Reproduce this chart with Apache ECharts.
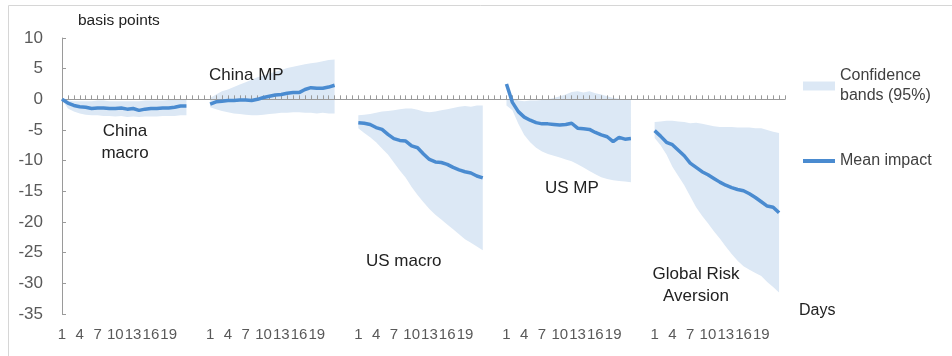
<!DOCTYPE html>
<html>
<head>
<meta charset="utf-8">
<script src="https://cdn.jsdelivr.net/npm/echarts@6/dist/echarts.min.js"></script>
<style>
html,body{margin:0;padding:0;background:#fff;}
#c{width:952px;height:356px;}
</style>
</head>
<body>
<div id="c"></div>
<script>
// ---- data ----
const panels = ['China macro', 'China MP', 'US macro', 'US MP', 'Global Risk Aversion'];
const dayTicks = ['1','','','4','','','7','','','10','','','13','','','16','','','19','','',''];
const gapAfter = [3, 3, 3, 3, 1];

const chinaMacroMean  = [0, -0.6, -1.0, -1.2, -1.3, -1.5, -1.4, -1.4, -1.5, -1.5, -1.4, -1.6, -1.5, -1.8, -1.6, -1.5, -1.5, -1.4, -1.4, -1.3, -1.1, -1.1];
const chinaMacroUpper = [0, -0.2, -0.3, -0.3, -0.3, -0.3, -0.2, -0.2, -0.3, -0.3, -0.3, -0.3, -0.3, -0.3, -0.2, -0.2, -0.2, -0.2, -0.1, -0.1, -0.1, -0.1];
const chinaMacroLower = [0, -1.5, -2.0, -2.3, -2.5, -2.6, -2.6, -2.7, -2.7, -2.8, -2.7, -2.9, -2.8, -2.9, -2.8, -2.8, -2.8, -2.7, -2.7, -2.7, -2.6, -2.6];

const chinaMpMean  = [-0.8, -0.4, -0.3, -0.2, -0.2, -0.1, -0.1, -0.2, 0.0, 0.3, 0.5, 0.7, 0.8, 1.0, 1.1, 1.1, 1.6, 1.9, 1.8, 1.8, 2.0, 2.3];
const chinaMpUpper = [0.2, 0.8, 1.3, 1.6, 2.0, 2.4, 2.8, 3.2, 3.6, 3.9, 4.2, 4.5, 4.8, 5.1, 5.3, 5.5, 5.7, 5.9, 6.0, 6.2, 6.4, 6.5];
const chinaMpLower = [-1.3, -1.6, -1.9, -2.1, -2.3, -2.4, -2.5, -2.6, -2.6, -2.5, -2.4, -2.3, -2.2, -2.2, -2.1, -2.1, -2.2, -2.2, -2.3, -2.2, -2.3, -2.3];

const usMacroMean  = [-3.8, -3.9, -4.1, -4.6, -4.9, -5.7, -6.4, -6.7, -6.8, -7.6, -7.9, -8.9, -9.8, -10.2, -10.3, -10.6, -11.1, -11.5, -11.8, -12.0, -12.5, -12.8];
const usMacroUpper = [-2.6, -2.5, -2.4, -2.2, -2.0, -1.9, -1.8, -1.6, -1.5, -1.5, -1.7, -2.0, -2.1, -2.0, -1.8, -1.6, -1.4, -1.2, -1.1, -1.2, -1.0, -1.0];
const usMacroLower = [-4.7, -5.5, -6.2, -7.0, -8.0, -9.0, -10.3, -11.6, -12.8, -14.3, -15.6, -16.8, -17.9, -18.8, -19.6, -20.4, -21.2, -22.0, -22.8, -23.4, -24.0, -24.6];

const usMpMean  = [2.5, -0.5, -2.0, -2.9, -3.4, -3.8, -4.0, -4.0, -4.1, -4.2, -4.1, -3.9, -4.7, -4.8, -4.9, -5.4, -5.8, -6.1, -6.9, -6.2, -6.5, -6.4];
const usMpUpper = [0.0, 0.2, -0.2, -0.3, -0.2, -0.2, -0.1, 0.0, 0.2, 0.5, 0.8, 1.2, 1.3, 1.1, 1.3, 1.0, 0.8, 0.5, 0.2, 0.1, 0.0, 0.0];
const usMpLower = [-1.0, -1.8, -4.0, -5.8, -7.0, -7.9, -8.5, -8.9, -9.2, -9.5, -9.8, -10.1, -10.6, -11.1, -11.7, -12.2, -12.7, -13.0, -13.2, -13.3, -13.4, -13.5];

const globalMean  = [-5.1, -6.0, -7.0, -7.4, -8.3, -9.2, -10.4, -11.1, -11.8, -12.3, -12.9, -13.5, -14.0, -14.4, -14.7, -14.9, -15.4, -16.0, -16.7, -17.4, -17.6, -18.5];
const globalUpper = [-3.7, -3.6, -3.5, -3.5, -3.6, -3.7, -3.9, -3.8, -4.0, -4.2, -4.4, -4.5, -4.5, -4.5, -4.6, -4.6, -4.6, -4.7, -4.7, -5.0, -5.3, -5.5];
const globalLower = [-6.3, -7.5, -9.0, -11.0, -12.5, -14.0, -15.8, -17.6, -19.0, -20.2, -21.5, -22.7, -24.0, -25.2, -26.3, -27.2, -27.8, -28.3, -28.8, -29.8, -30.6, -31.5];

const yTicks = { min: -35, max: 10, step: 5 };

// ---- build series arrays ----
const means  = [chinaMacroMean, chinaMpMean, usMacroMean, usMpMean, globalMean];
const uppers = [chinaMacroUpper, chinaMpUpper, usMacroUpper, usMpUpper, globalUpper];
const lowers = [chinaMacroLower, chinaMpLower, usMacroLower, usMpLower, globalLower];

const categories = [], tickText = [], meanData = [], lowData = [], spanData = [];
panels.forEach((p, pi) => {
  for (let d = 0; d < dayTicks.length; d++) {
    categories.push(p + ' ' + (d + 1));
    tickText.push(dayTicks[d]);
    meanData.push(means[pi][d]);
    lowData.push(lowers[pi][d]);
    spanData.push(+(uppers[pi][d] - lowers[pi][d]).toFixed(2));
  }
  for (let g = 0; g < gapAfter[pi]; g++) {
    categories.push(p + ' gap ' + g);
    tickText.push('');
    meanData.push(null); lowData.push(null); spanData.push(null);
  }
});

const FONT = "'Liberation Sans', Arial, sans-serif";
const BAND = '#dce8f5';
const LINE = '#4a8bd0';

const chart = echarts.init(document.getElementById('c'), null, { renderer: 'canvas' });
chart.setOption({
  animation: false,
  backgroundColor: '#fff',
  textStyle: { fontFamily: FONT },
  grid: { left: 62, right: 167, top: 38, bottom: 42 },
  legend: [
    {
      data: [{ name: 'Confidence bands (95%)', icon: 'rect' }],
      left: 803, top: 56, padding: 0,
      itemWidth: 32, itemHeight: 9, itemGap: 0,
      selectedMode: false,
      formatter: () => 'Confidence\nbands (95%)',
      textStyle: { fontFamily: FONT, fontSize: 16, color: '#404040', lineHeight: 20, padding: [20, 0, 0, 0] }
    },
    {
      data: [{ name: 'Mean impact', icon: 'rect' }],
      left: 803, top: 152, padding: 0,
      itemWidth: 32, itemHeight: 4,
      selectedMode: false,
      textStyle: { fontFamily: FONT, fontSize: 16, color: '#404040', lineHeight: 18 }
    }
  ],
  xAxis: [
    {
      type: 'category', data: categories, boundaryGap: false, z: 2,
      axisLine: { onZero: true, lineStyle: { color: '#9a9a9a', width: 1 } },
      axisTick: { show: true, inside: true, length: 4, interval: 0, lineStyle: { color: '#9a9a9a' } },
      axisLabel: { show: false },
      splitLine: { show: false }
    },
    {
      type: 'category', data: categories, boundaryGap: false, position: 'bottom',
      axisLine: { show: false, onZero: false },
      axisTick: { show: false },
      splitLine: { show: false },
      axisLabel: {
        interval: 0, margin: 13, fontSize: 15, color: '#595959', fontFamily: FONT,
        formatter: (v, i) => tickText[i]
      }
    }
  ],
  yAxis: {
    type: 'value', min: yTicks.min, max: yTicks.max, interval: yTicks.step,
    axisLine: { show: true, lineStyle: { color: '#9a9a9a' } },
    axisTick: { show: true, inside: true, length: 4, lineStyle: { color: '#9a9a9a' } },
    splitLine: { show: false },
    axisLabel: { margin: 19, fontSize: 17, color: '#595959', fontFamily: FONT }
  },
  series: [
    {
      name: 'band base', type: 'line', data: lowData, stack: 'band', stackStrategy: 'all',
      symbol: 'none', lineStyle: { opacity: 0 }, z: 1, silent: true
    },
    {
      name: 'Confidence bands (95%)', type: 'line', data: spanData, stack: 'band', stackStrategy: 'all',
      symbol: 'none', lineStyle: { opacity: 0, width: 0 }, itemStyle: { color: BAND },
      areaStyle: { color: BAND, opacity: 1 }, z: 1, silent: true
    },
    {
      name: 'Mean impact', type: 'line', data: meanData, symbol: 'none',
      lineStyle: { color: LINE, width: 3.5 }, itemStyle: { color: LINE }, z: 3
    }
  ],
  graphic: [
    { type: 'line', z: 100, shape: { x1: 8.5, y1: 5.5, x2: 952, y2: 5.5 }, style: { stroke: '#d6d6d6', lineWidth: 1 }, silent: true },
    { type: 'line', z: 100, shape: { x1: 8.5, y1: 5.5, x2: 8.5, y2: 356 }, style: { stroke: '#d6d6d6', lineWidth: 1 }, silent: true },
    { type: 'text', z: 100, left: 78, top: 13, style: { text: 'basis points', font: '15.5px ' + FONT, fill: '#222' } },
    { type: 'text', z: 100, left: 209, top: 67, style: { text: 'China MP', font: '17px ' + FONT, fill: '#222' } },
    { type: 'text', z: 100, x: 125, y: 120, style: { text: 'China\nmacro', font: '17px ' + FONT, fill: '#222', align: 'center', lineHeight: 22 } },
    { type: 'text', z: 100, left: 366, top: 253, style: { text: 'US macro', font: '17px ' + FONT, fill: '#222' } },
    { type: 'text', z: 100, left: 545, top: 180, style: { text: 'US MP', font: '17px ' + FONT, fill: '#222' } },
    { type: 'text', z: 100, x: 696, y: 263, style: { text: 'Global Risk\nAversion', font: '17px ' + FONT, fill: '#222', align: 'center', lineHeight: 22 } },
    { type: 'text', z: 100, left: 799, top: 303, style: { text: 'Days', font: '16px ' + FONT, fill: '#222' } }
  ]
});
</script>
</body>
</html>
